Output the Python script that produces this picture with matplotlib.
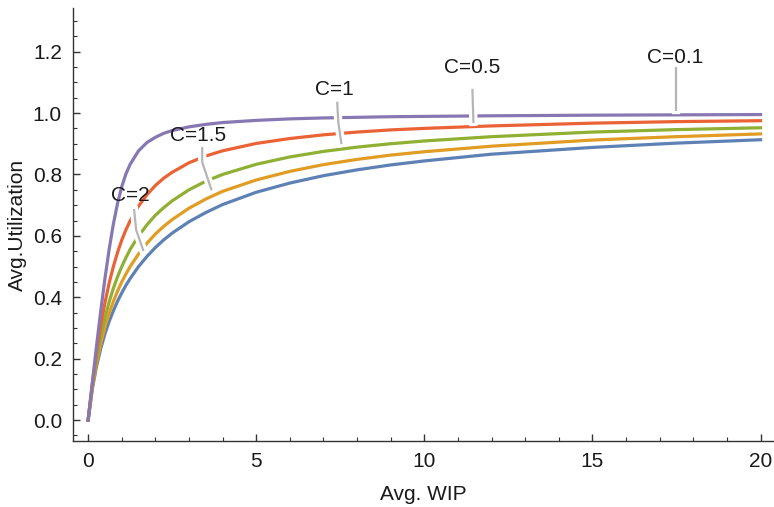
import matplotlib
matplotlib.use("Agg")
import matplotlib.pyplot as plt
import matplotlib.patheffects as pe
from matplotlib.ticker import MultipleLocator

plt.rcParams['font.family'] = ['Liberation Sans', 'DejaVu Sans']

# Avg. WIP sample points
wip = [0, 0.125, 0.25, 0.375, 0.5, 0.625, 0.75, 0.875, 1, 1.125, 1.25, 1.5,
       1.75, 2, 2.25, 2.5, 3, 3.5, 4, 5, 6, 7, 8, 9, 10, 12, 15, 17.5, 20]

# Avg. utilization per curve
util_c01 = [0, 0.123, 0.242, 0.355, 0.461, 0.556, 0.638, 0.706, 0.760, 0.802,
            0.833, 0.877, 0.904, 0.921, 0.934, 0.943, 0.955, 0.963, 0.969,
            0.976, 0.981, 0.984, 0.986, 0.988, 0.989, 0.991, 0.993, 0.994, 0.995]
util_c05 = [0, 0.117, 0.219, 0.307, 0.382, 0.446, 0.500, 0.546, 0.586, 0.620,
            0.649, 0.697, 0.734, 0.764, 0.788, 0.807, 0.838, 0.860, 0.877,
            0.901, 0.917, 0.929, 0.938, 0.945, 0.950, 0.958, 0.967, 0.972, 0.975]
util_c1 = [0, 0.111, 0.200, 0.273, 0.333, 0.385, 0.429, 0.467, 0.500, 0.529,
           0.556, 0.600, 0.636, 0.667, 0.692, 0.714, 0.750, 0.778, 0.800,
           0.833, 0.857, 0.875, 0.889, 0.900, 0.909, 0.923, 0.938, 0.946, 0.952]
util_c15 = [0, 0.106, 0.186, 0.250, 0.303, 0.348, 0.386, 0.420, 0.450, 0.476,
            0.500, 0.541, 0.576, 0.606, 0.631, 0.653, 0.690, 0.720, 0.745,
            0.782, 0.810, 0.832, 0.849, 0.863, 0.874, 0.892, 0.912, 0.923, 0.932]
util_c2 = [0, 0.102, 0.175, 0.233, 0.281, 0.321, 0.356, 0.387, 0.414, 0.439,
           0.461, 0.500, 0.533, 0.562, 0.587, 0.609, 0.646, 0.676, 0.702,
           0.742, 0.772, 0.796, 0.815, 0.831, 0.844, 0.866, 0.888, 0.902, 0.913]

series = [
    (util_c2, '#5E81B5'),
    (util_c15, '#E19C24'),
    (util_c1, '#8FB032'),
    (util_c05, '#EB6235'),
    (util_c01, '#8778B3'),
]

labels = ['C=2', 'C=1.5', 'C=1', 'C=0.5', 'C=0.1']

fig = plt.figure(figsize=(7.74, 5.07), dpi=100)
ax = fig.add_axes([73 / 774, 66 / 507, 701 / 774, 433 / 507])

for vals, col in series:
    ax.plot(wip, vals, color=col, linewidth=2.3, solid_joinstyle='round', zorder=2)

# callouts: text position and leader path
callouts = {
    'C=2': ((1.25, 0.730), [(1.369, 0.684), (1.429, 0.619), (1.637, 0.554)]),
    'C=1.5': ((3.27, 0.928), [(3.393, 0.886), (3.393, 0.840), (3.661, 0.752)]),
    'C=1': ((7.32, 1.075), [(7.41, 1.033), (7.44, 0.971), (7.53, 0.902)]),
    'C=0.5': ((11.43, 1.147), [(11.43, 1.075), (11.46, 0.971)]),
    'C=0.1': ((17.47, 1.182), [(17.5, 1.147), (17.5, 1.010)]),
}
for lab in labels:
    (tx, ty), path = callouts[lab]
    xs = [p[0] for p in path]
    ys = [p[1] for p in path]
    ax.plot(xs, ys, color='#b5b5b5', linewidth=1.6, zorder=3,
            path_effects=[pe.withStroke(linewidth=6, foreground='white')])
    ax.text(tx, ty, lab, ha='center', va='center', fontsize=15,
            color='#1a1a1a', zorder=4)

ax.set_xlim(-0.45, 20.4)
ax.set_ylim(-0.068, 1.342)

ax.xaxis.set_major_locator(MultipleLocator(5))
ax.xaxis.set_minor_locator(MultipleLocator(1))
ax.yaxis.set_major_locator(MultipleLocator(0.2))
ax.yaxis.set_minor_locator(MultipleLocator(0.05))
ax.yaxis.set_major_formatter(plt.FuncFormatter(lambda v, p: f"{v:.1f}"))

for s in ['top', 'right']:
    ax.spines[s].set_visible(False)
for s in ['left', 'bottom']:
    ax.spines[s].set_color('#333333')
    ax.spines[s].set_linewidth(1.0)

ax.tick_params(which='both', direction='in', colors='#333333', labelsize=15,
               labelcolor='#1a1a1a')
ax.tick_params(which='major', length=5, width=1.0, pad=8)
ax.tick_params(which='minor', length=3, width=0.8)

ax.set_xlabel('Avg. WIP', fontsize=15, color='#1a1a1a', labelpad=10)
ax.set_ylabel('Avg.Utilization', fontsize=15, color='#1a1a1a', labelpad=4)

fig.savefig('out.png', dpi=100)
